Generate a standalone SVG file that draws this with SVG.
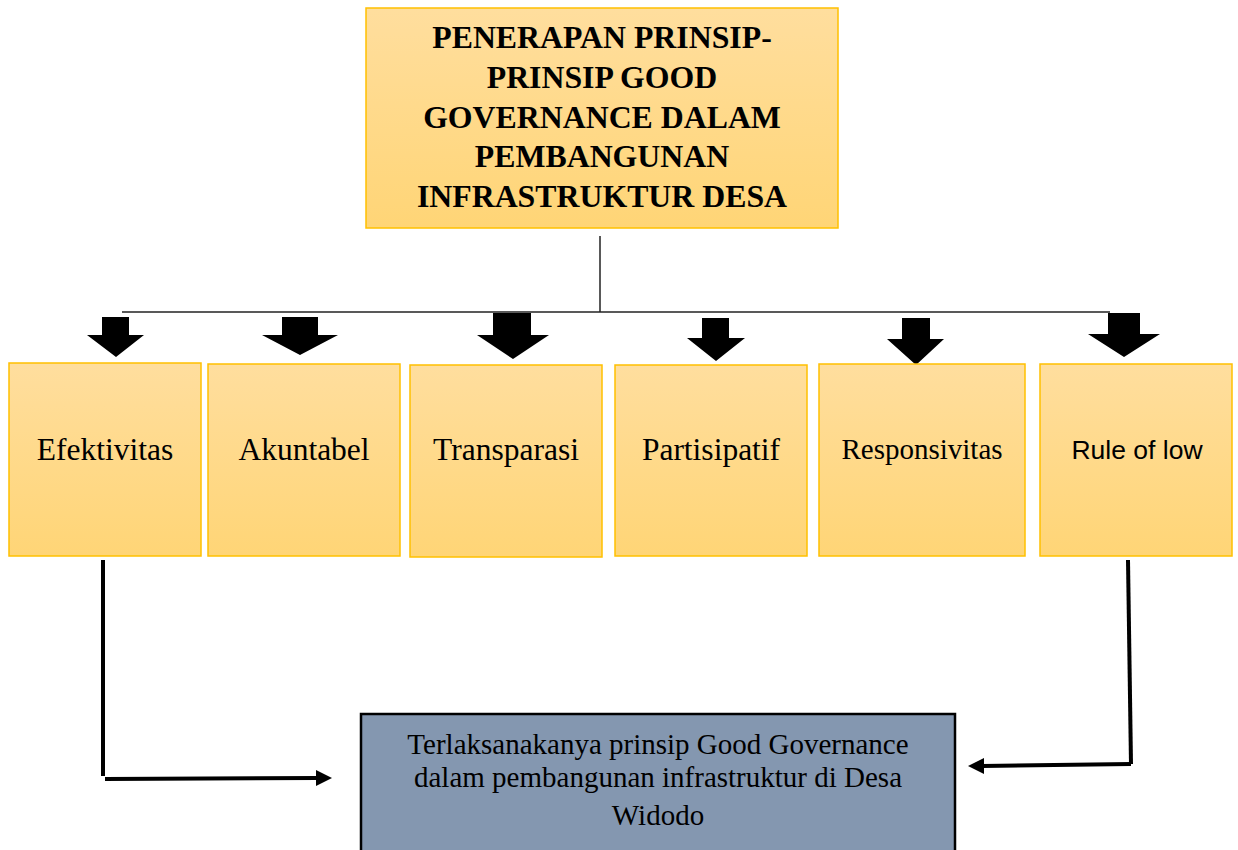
<svg xmlns="http://www.w3.org/2000/svg" width="1238" height="850" viewBox="0 0 1238 850">
<defs>
<linearGradient id="gold" x1="0" y1="0" x2="0" y2="1">
<stop offset="0" stop-color="#FFDE9E"/>
<stop offset="1" stop-color="#FFD576"/>
</linearGradient>
<style>
.box{fill:url(#gold);stroke:#FFC000;stroke-width:1.5}
.lbl{font-family:"Liberation Serif","Times New Roman",serif;font-size:31.5px;fill:#000;text-anchor:middle}
.title{font-family:"Liberation Serif","Times New Roman",serif;font-size:31.8px;font-weight:bold;fill:#000;text-anchor:middle}
.bot{font-family:"Liberation Serif","Times New Roman",serif;font-size:29px;fill:#000;text-anchor:middle}
.blk{fill:#000}
.thin{stroke:#222;stroke-width:1.5;fill:none}
.thick{stroke:#000;stroke-width:4;fill:none}
</style>
</defs>
<rect width="1238" height="850" fill="#fff"/>

<g id="title">
<rect class="box" x="366" y="8" width="472" height="220"/>
<text class="title" x="602" y="48">PENERAPAN PRINSIP-</text>
<text class="title" x="602" y="88">PRINSIP GOOD</text>
<text class="title" x="602" y="128">GOVERNANCE DALAM</text>
<text class="title" x="602" y="167">PEMBANGUNAN</text>
<text class="title" x="602" y="207">INFRASTRUKTUR DESA</text>
</g>

<g id="connectors">
<line class="thin" x1="600" y1="236" x2="600" y2="312"/>
<line class="thin" x1="122" y1="312" x2="1110" y2="312"/>
<polygon class="blk" points="102,317 129,317 129,335 144,335 116,357 87,335 102,335"/>
<polygon class="blk" points="282,317 318,317 318,335 338,335 300,355 262,335 282,335"/>
<polygon class="blk" points="493,313 531,313 531,335 549,335 513,359 477,335 493,335"/>
<polygon class="blk" points="702,318 729,318 729,338 745,338 716,361 687,338 702,338"/>
<polygon class="blk" points="902,318 930,318 930,339 944,339 916,365 887,339 902,339"/>
<polygon class="blk" points="1108,313 1140,313 1140,334 1160,334 1124,357 1088,334 1108,334"/>
<polyline class="thick" points="103,560 103,776"/>
<line class="thick" x1="105" y1="779" x2="318" y2="778"/>
<polygon class="blk" points="316,770 332,778 316,786"/>
<polyline class="thick" points="1128,560 1131,764"/>
<line class="thick" x1="1131" y1="764" x2="982" y2="766"/>
<polygon class="blk" points="984,758 968,766 984,774"/>
</g>

<g id="n1"><rect class="box" x="9" y="363" width="192" height="193"/><text class="lbl" x="105" y="460">Efektivitas</text></g>
<g id="n2"><rect class="box" x="208" y="364" width="192" height="192"/><text class="lbl" x="304" y="460">Akuntabel</text></g>
<g id="n3"><rect class="box" x="410" y="365" width="192" height="192"/><text class="lbl" x="506" y="460">Transparasi</text></g>
<g id="n4"><rect class="box" x="615" y="365" width="192" height="191"/><text class="lbl" x="711" y="460">Partisipatif</text></g>
<g id="n5"><rect class="box" x="819" y="364" width="206" height="192"/><text class="lbl" x="922" y="459" style="font-size:29px">Responsivitas</text></g>
<g id="n6"><rect class="box" x="1040" y="364" width="192" height="192"/><text x="1137" y="459" style="font-family:'Liberation Sans',Arial,sans-serif;font-size:26.5px;text-anchor:middle;fill:#000">Rule of low</text></g>

<g id="result">
<rect x="361" y="714" width="594" height="150" fill="#8497B0" stroke="#000" stroke-width="2.5"/>
<text class="bot" x="658" y="754">Terlaksanakanya prinsip Good Governance</text>
<text class="bot" x="658" y="787">dalam pembangunan infrastruktur di Desa</text>
<text class="bot" x="658" y="825">Widodo</text>
</g>
</svg>
